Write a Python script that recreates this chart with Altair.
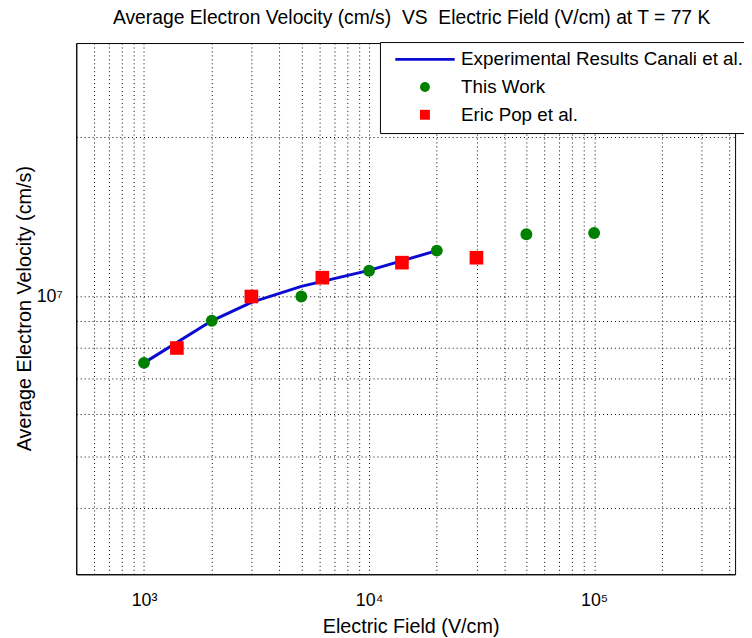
import altair as alt
import pandas as pd

# ---- data ----
canali_field = [1000, 2000, 3000, 5000, 10000, 20000]
canali_velocity = [7.5e6, 9.0e6, 9.75e6, 1.045e7, 1.12e7, 1.22e7]

this_work_field = [1000, 2000, 5000, 10000, 20000, 50000, 100000]
this_work_velocity = [7.5e6, 9.0e6, 1.0e7, 1.118e7, 1.22e7, 1.31e7, 1.317e7]

pop_field = [1400, 3000, 6200, 14000, 30000]
pop_velocity = [8.0e6, 1.0e7, 1.085e7, 1.158e7, 1.183e7]

series_names = ["Experimental Results Canali et al.", "This Work", "Eric Pop et al."]

x_label_values = [1000, 10000, 100000]
x_label_texts = ["10³", "10⁴", "10⁵"]
x_grid_values = [600, 700, 800, 900,
                 1000, 2000, 3000, 4000, 5000, 6000, 7000, 8000, 9000,
                 10000, 20000, 30000, 40000, 50000, 60000, 70000, 80000, 90000,
                 100000, 200000, 300000, 400000]
y_label_values = [1e7]
y_label_texts = ["10⁷"]
y_grid_values = [4e6, 5e6, 6e6, 7e6, 8e6, 9e6, 1e7, 2e7]

title_text = "Average Electron Velocity (cm/s)\u00a0 VS \u00a0Electric Field (V/cm) at T = 77 K"
x_title = "Electric Field (V/cm)"
y_title = "Average Electron Velocity (cm/s)"

# ---- styles ----
FONT = "Liberation Sans"
BLUE = "#0a0ad2"
GREEN = "#008000"
RED = "#ff0000"
series_colors = [BLUE, GREEN, RED]
legend_line_path = "M-6,-0.3L6,-0.3L6,0.3L-6,0.3Z"
series_shapes = [legend_line_path, "circle", "square"]

canali_df = pd.DataFrame({"field": canali_field, "velocity": canali_velocity,
                          "series": series_names[0]})
this_df = pd.DataFrame({"field": this_work_field, "velocity": this_work_velocity,
                        "series": series_names[1]})
pop_df = pd.DataFrame({"field": pop_field, "velocity": pop_velocity,
                       "series": series_names[2]})


def label_expr(values, texts):
    parts = []
    for v, t in zip(values, texts):
        parts.append(f"abs(datum.value - {v}) < {v} * 0.001 ? '{t}'")
    return " : ".join(parts) + " : ''"


x_scale = alt.Scale(type="log", domain=[500, 423000], nice=False)
y_scale = alt.Scale(type="log", domain=[3e6, 3e7], nice=False)
color_scale = alt.Scale(domain=series_names, range=series_colors)
shape_scale = alt.Scale(domain=series_names, range=series_shapes)

grid_common = dict(grid=True, gridColor="#000000", gridDash=[1, 3], gridOpacity=1,
                   gridWidth=1, ticks=False, domainColor="#000000",
                   labelFont=FONT, labelFontSize=18, labelColor="#000000",
                   titleFont=FONT, titleFontSize=20, titleFontWeight="normal",
                   titleColor="#000000")

x_axis = alt.Axis(values=x_grid_values, labelExpr=label_expr(x_label_values, x_label_texts),
                  labelPadding=18, labelOverlap=False, title=x_title,
                  titleX=338, titleY=59, titleBaseline="alphabetic", titleAlign="center",
                  **grid_common)
y_axis = alt.Axis(values=y_grid_values, labelExpr=label_expr(y_label_values, y_label_texts),
                  labelPadding=14, labelOverlap=False, title=y_title,
                  titleX=-46, titleY=268, titleAngle=-90, titleBaseline="alphabetic",
                  titleAlign="center", **grid_common)

legend = alt.Legend(title=None, orient="none", legendX=307, legendY=-1,
                    fillColor="white", strokeColor="black", padding=8,
                    cornerRadius=0, symbolSize=100, symbolStrokeWidth=0,
                    symbolOffset=28, labelOffset=27, rowPadding=8,
                    labelFont=FONT, labelFontSize=19, labelColor="#000000",
                    labelLimit=500)

X = alt.X("field:Q", scale=x_scale, axis=x_axis)
Y = alt.Y("velocity:Q", scale=y_scale, axis=y_axis)

line = alt.Chart(canali_df).mark_line(strokeWidth=3, clip=True).encode(
    x=X, y=Y, color=alt.value(BLUE), detail="series:N")

pts_this = alt.Chart(this_df).mark_point(filled=True, size=144, opacity=1).encode(
    x=X, y=Y,
    color=alt.Color("series:N", scale=color_scale, legend=legend),
    shape=alt.Shape("series:N", scale=shape_scale, legend=legend))

pts_pop = alt.Chart(pop_df).mark_point(filled=True, size=190, opacity=1).encode(
    x=X, y=Y,
    color=alt.Color("series:N", scale=color_scale, legend=legend),
    shape=alt.Shape("series:N", scale=shape_scale, legend=legend))

chart = alt.layer(line, pts_this, pts_pop).properties(
    width=666, height=537,
    title=alt.TitleParams(title_text, font=FONT, fontSize=19.5, fontWeight="normal",
                          color="#000000", anchor="middle", dx=6, offset=13),
    autosize=alt.AutoSizeParams(type="none"),
    padding={"left": 69, "top": 32, "right": 9, "bottom": 61},
    background="white",
).configure_view(stroke="#000000", strokeWidth=1)

chart.save("out.html", embed_options={"renderer": "svg", "actions": False})
